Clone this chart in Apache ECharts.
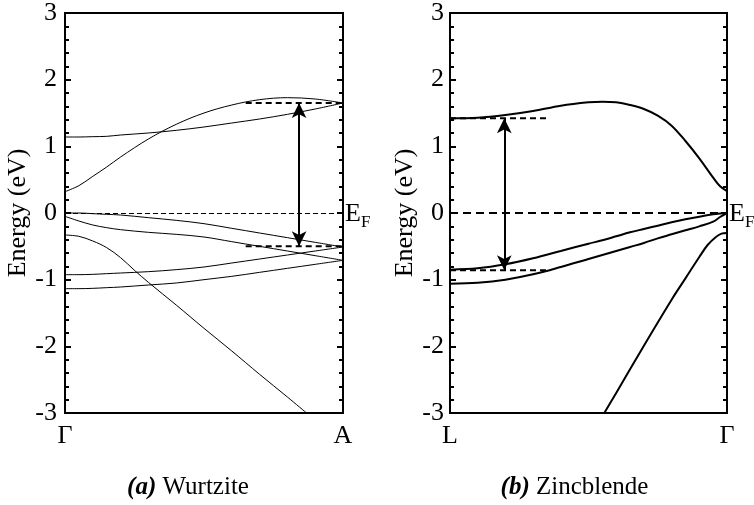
<!DOCTYPE html>
<html>
<head>
<meta charset="utf-8">
<script src="https://cdn.jsdelivr.net/npm/echarts@6/dist/echarts.min.js"></script>
<style>
  html, body { margin: 0; padding: 0; background: #fff; }
  #chart { width: 754px; height: 505px; }
</style>
</head>
<body>
<div id="chart"></div>
<script>
// (a) Wurtzite, Γ -> A
const kA = [0, 0.05, 0.1, 0.15, 0.2, 0.3, 0.4, 0.5, 0.6, 0.7, 0.8, 0.9, 1];
const wzCb1 = [0.32, 0.41, 0.55, 0.69, 0.84, 1.11, 1.33, 1.50, 1.62, 1.70, 1.73, 1.71, 1.65];
const wzCb2 = [1.14, 1.14, 1.145, 1.15, 1.17, 1.20, 1.24, 1.29, 1.35, 1.41, 1.48, 1.56, 1.65];
const wzVb1 = [0, 0, -0.01, -0.02, -0.03, -0.07, -0.11, -0.16, -0.23, -0.30, -0.37, -0.44, -0.51];
const wzVb2 = [-0.05, -0.12, -0.18, -0.22, -0.25, -0.29, -0.32, -0.36, -0.43, -0.50, -0.57, -0.64, -0.71];
const wzVb3 = [-0.925, -0.925, -0.92, -0.91, -0.90, -0.88, -0.85, -0.81, -0.75, -0.69, -0.63, -0.57, -0.51];
const wzVb4 = [-1.135, -1.135, -1.13, -1.12, -1.11, -1.08, -1.05, -1.00, -0.95, -0.89, -0.83, -0.77, -0.71];
const kA5 = [0, 0.05, 0.1, 0.15, 0.2, 0.25, 0.3, 0.4, 0.5, 0.6, 0.7, 0.8, 0.869];
const wzVb5 = [-0.33, -0.35, -0.42, -0.52, -0.67, -0.86, -1.04, -1.38, -1.73, -2.07, -2.42, -2.76, -3.0];
// gap: conduction level, valence level, k of arrow, k range of dashes
const wzGap = { cb: 1.65, vb: -0.5, k: 0.842, kFrom: 0.65, kTo: 1 };

// (b) Zincblende, L -> Γ
const kB = [0, 0.1, 0.2, 0.3, 0.4, 0.5, 0.55, 0.6, 0.65, 0.7, 0.75, 0.8, 0.85, 0.9, 0.95, 0.975, 1];
const zbCb = [1.42, 1.43, 1.47, 1.53, 1.61, 1.66, 1.67, 1.66, 1.62, 1.56, 1.46, 1.31, 1.08, 0.82, 0.53, 0.40, 0.33];
const zbVb1 = [-0.85, -0.83, -0.77, -0.68, -0.57, -0.46, -0.41, -0.35, -0.29, -0.24, -0.19, -0.14, -0.095, -0.055, -0.02, -0.008, 0];
const zbVb2 = [-1.06, -1.045, -1.00, -0.92, -0.81, -0.69, -0.63, -0.57, -0.51, -0.45, -0.38, -0.32, -0.26, -0.20, -0.13, -0.06, 0];
const kB3 = [0.557, 0.6, 0.7, 0.8, 0.85, 0.9, 0.93, 0.96, 0.98, 1];
const zbVb3 = [-3, -2.70, -1.99, -1.30, -0.98, -0.66, -0.48, -0.36, -0.31, -0.30];
const zbGap = { cb: 1.42, vb: -0.86, k: 0.196, kFrom: 0, kTo: 0.35 };

const FONT = 'Liberation Serif';

function pairs(xs, ys) {
  return xs.map((x, i) => [x, ys[i]]);
}

function band(name, xs, ys, idx, width) {
  return {
    name: name,
    type: 'line',
    xAxisIndex: idx,
    yAxisIndex: idx * 2,
    data: pairs(xs, ys),
    smooth: 0.35,
    showSymbol: false,
    silent: true,
    lineStyle: { color: '#000', width: width }
  };
}

function dashSeg(x1, x2, y, idx, width) {
  return {
    type: 'line',
    xAxisIndex: idx,
    yAxisIndex: idx * 2,
    data: [[x1, y], [x2, y]],
    showSymbol: false,
    silent: true,
    lineStyle: { color: '#000', width: width, type: [6, 4] }
  };
}

function fermi(idx, width, dash) {
  return {
    type: 'line',
    xAxisIndex: idx,
    yAxisIndex: idx * 2,
    data: [],
    markLine: {
      silent: true,
      symbol: 'none',
      lineStyle: { color: '#000', width: width, type: dash },
      label: {
        show: true,
        position: 'end',
        distance: 2,
        offset: [0, 3],
        formatter: '{e|E}{f|F}',
        rich: {
          e: { fontSize: 26, fontFamily: FONT, color: '#000', padding: [0, 0, 4, 0] },
          f: { fontSize: 17, fontFamily: FONT, color: '#000', verticalAlign: 'bottom' }
        }
      },
      data: [{ yAxis: 0 }]
    }
  };
}

function arrow(gap, idx) {
  return {
    type: 'line',
    xAxisIndex: idx,
    yAxisIndex: idx * 2,
    data: [],
    markLine: {
      silent: true,
      symbol: ['arrow', 'arrow'],
      symbolSize: [11, 15],
      lineStyle: { color: '#000', width: 2, type: 'solid' },
      label: { show: false },
      data: [[{ coord: [gap.k, gap.vb] }, { coord: [gap.k, gap.cb] }]]
    }
  };
}

const grids = [
  { left: 65, top: 13, width: 278, height: 400 },
  { left: 450, top: 13, width: 277, height: 400 }
];

// caption under each panel, drawn as the x axis name
function xAxisFor(idx, labels, tag, word, shift) {
  return {
    type: 'value', gridIndex: idx, min: 0, max: 1, interval: 1,
    name: '{b|' + tag + '}{r| ' + word + '}',
    nameLocation: 'middle',
    nameGap: 62,
    nameTextStyle: {
      fontSize: 25, fontFamily: FONT, color: '#000', padding: [0, shift, 0, 0],
      rich: {
        b: { fontSize: 25, fontFamily: FONT, fontStyle: 'italic', fontWeight: 'bold', color: '#000' },
        r: { fontSize: 25, fontFamily: FONT, color: '#000' }
      }
    },
    axisLine: { show: false },
    axisTick: { show: false },
    splitLine: { show: false },
    axisLabel: {
      fontSize: 26, fontFamily: FONT, color: '#000', margin: 10,
      formatter: v => (v === 0 ? labels[0] : v === 1 ? labels[1] : '')
    }
  };
}

function yAxisFor(idx, side) {
  return {
    type: 'value', gridIndex: idx, min: -3, max: 3, interval: 1,
    position: side,
    name: side === 'left' ? 'Energy (eV)' : '',
    nameLocation: 'middle',
    nameGap: idx === 0 ? 34 : 32,
    nameTextStyle: { fontSize: 26, fontFamily: FONT, color: '#000' },
    axisLine: { show: true, lineStyle: { color: '#000', width: 2 } },
    axisTick: { show: true, inside: true, length: 6, lineStyle: { color: '#000', width: 2 } },
    minorTick: { show: true, splitNumber: 5, length: 4, lineStyle: { color: '#000', width: 2 } },
    splitLine: { show: false },
    minorSplitLine: { show: false },
    axisLabel: {
      show: side === 'left',
      fontSize: 26, fontFamily: FONT, color: '#000', margin: idx === 0 ? 8 : 6
    }
  };
}

const chart = echarts.init(document.getElementById('chart'), null, { renderer: 'canvas' });
chart.setOption({
  backgroundColor: '#fff',
  animation: false,
  textStyle: { fontFamily: FONT, color: '#000' },
  grid: grids.map(g => Object.assign({ show: true, borderColor: '#000', borderWidth: 2, backgroundColor: 'transparent' }, g)),
  xAxis: [xAxisFor(0, ['Γ', 'A'], '(a)', 'Wurtzite', 32), xAxisFor(1, ['L', 'Γ'], '(b)', 'Zincblende', 28)],
  yAxis: [yAxisFor(0, 'left'), yAxisFor(0, 'right'), yAxisFor(1, 'left'), yAxisFor(1, 'right')],
  series: [
    fermi(0, 1, [5, 3]),
    band('wz-cb1', kA, wzCb1, 0, 1),
    band('wz-cb2', kA, wzCb2, 0, 1),
    band('wz-vb1', kA, wzVb1, 0, 1),
    band('wz-vb2', kA, wzVb2, 0, 1),
    band('wz-vb3', kA, wzVb3, 0, 1),
    band('wz-vb4', kA, wzVb4, 0, 1),
    band('wz-vb5', kA5, wzVb5, 0, 1),
    dashSeg(wzGap.kFrom, wzGap.kTo, wzGap.cb, 0, 2),
    dashSeg(wzGap.kFrom, wzGap.kTo, wzGap.vb, 0, 2),
    arrow(wzGap, 0),

    fermi(1, 2, [8, 5]),
    band('zb-cb', kB, zbCb, 1, 2),
    band('zb-vb1', kB, zbVb1, 1, 2),
    band('zb-vb2', kB, zbVb2, 1, 2),
    band('zb-vb3', kB3, zbVb3, 1, 2),
    dashSeg(zbGap.kFrom, zbGap.kTo, zbGap.cb, 1, 2),
    dashSeg(zbGap.kFrom, zbGap.kTo, zbGap.vb, 1, 2),
    arrow(zbGap, 1)
  ]
});
</script>
</body>
</html>
